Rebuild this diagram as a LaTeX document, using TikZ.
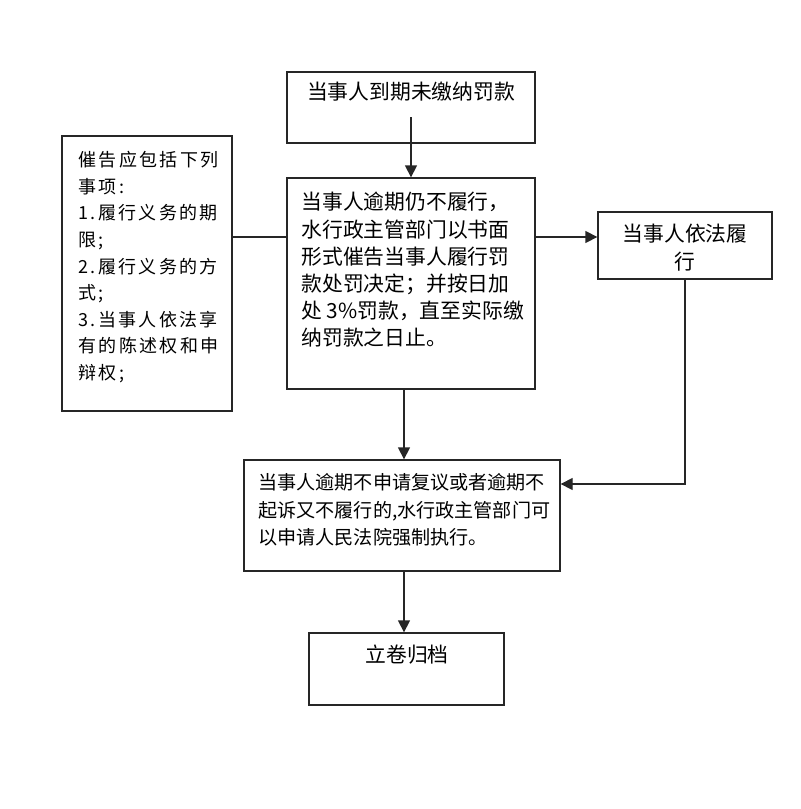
\documentclass[tikz,border=0pt]{standalone}
\usepackage{fontspec}
\setmainfont{Noto Sans CJK SC}
\newfontfamily\widecjk[LetterSpace=13]{Noto Sans CJK SC}
\usepackage{xcolor}
\usetikzlibrary{arrows.meta,positioning,calc}
\definecolor{edge}{HTML}{262626}

\begin{document}
\begin{tikzpicture}[
          x=0.5pt, y=-0.5pt,
          box/.style = {draw=edge, line width=0.65pt, inner sep=0pt},
          txt/.style = {inner sep=0pt, font=\fontsize{10.4pt}{13.6pt}\selectfont},
          arr/.style = {-{Triangle[length=6pt,width=6pt]}, line width=0.65pt, draw=edge},
          lnk/.style = {line width=0.65pt, draw=edge},
        ]
        \useasboundingbox (0,0) rectangle (800,809);
        % boxes
        \node[box, minimum width=124pt, minimum height=35.5pt]  (due)     at (411,107.5) {};
        \node[box, minimum width=124pt, minimum height=105.5pt] (urge)    at (411,283.5) {};
        \node[box, minimum width=85pt,  minimum height=137.5pt] (items)   at (147,273.5) {};
        \node[box, minimum width=87pt,  minimum height=33.5pt]  (comply)  at (685,245.5) {};
        \node[box, minimum width=158pt, minimum height=55.5pt]  (court)   at (402,515.5) {};
        \node[box, minimum width=97.5pt, minimum height=36pt]   (archive) at (406.5,669) {};

        % texts
        \node[txt] (dueT) at (411,92) {当事人到期未缴纳罚款};
        \node[txt, anchor=north west, align=left] (urgeT) at (301,192) {当事人逾期仍不履行，\\水行政主管部门以书面\\形式催告当事人履行罚\\款处罚决定；并按日加\\处 3\%罚款，直至实际缴\\纳罚款之日止。};
        \node[txt, anchor=north west, align=left, font=\widecjk\fontsize{9pt}{13.3pt}\selectfont] (itemsT) at (78,151) {催告应包括下列\\事项:\\1.履行义务的期\\限;\\2.履行义务的方\\式;\\3.当事人依法享\\有的陈述权和申\\辩权;};
        \node[txt, anchor=north, align=center] (complyT) at (685,224) {当事人依法履\\行};
        \node[txt, anchor=north west, align=left, font=\fontsize{9.55pt}{13.75pt}\selectfont] (courtT) at (258,473) {当事人逾期不申请复议或者逾期不\\起诉又不履行的,水行政主管部门可\\以申请人民法院强制执行。};
        \node[txt] (archiveT) at (407,655) {立卷归档};

        % connectors
        \coordinate (dueS) at (411,117);
        \draw[arr] (dueS) -- (dueS |- urge.north);
        \draw[lnk] (items.east |- 0,237) -- (urge.west |- 0,237);
        \draw[arr] (urge.east |- 0,237) -- (comply.west |- 0,237);
        \draw[arr] (comply.south) -- (comply.south |- 0,484) -- (court.east |- 0,484);
        \draw[arr] (urge.south -| 404,0) -- (court.north -| 404,0);
        \draw[arr] (court.south -| 404,0) -- (archive.north -| 404,0);
      \end{tikzpicture}
\end{document}
